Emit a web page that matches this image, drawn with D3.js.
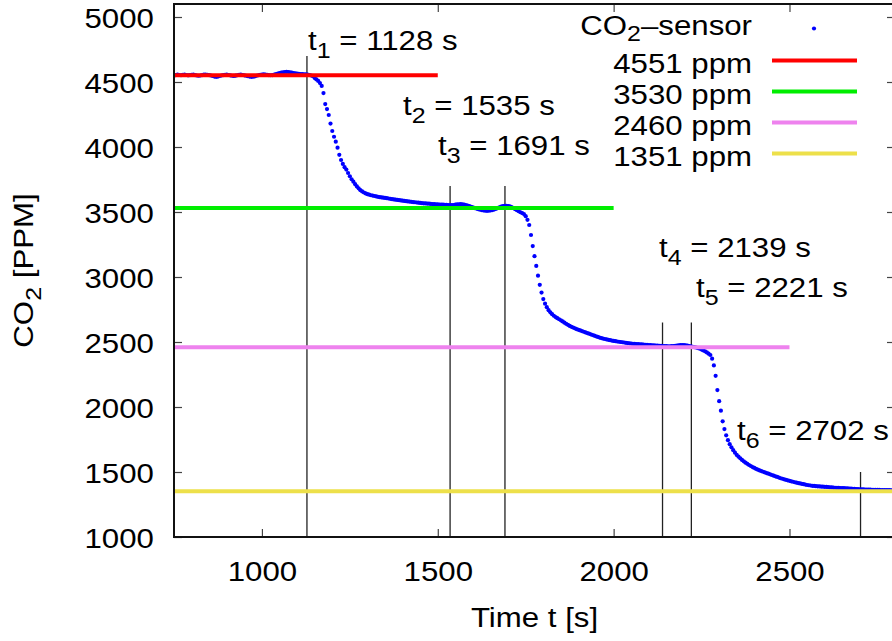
<!DOCTYPE html>
<html>
<head>
<meta charset="utf-8">
<script src="https://cdnjs.cloudflare.com/ajax/libs/d3/7.8.5/d3.min.js"></script>
<style>
  body { margin: 0; background: #fff; overflow: hidden; }
  text { font-family: "Liberation Sans", Arial, Helvetica, sans-serif; fill: #000; }
</style>
</head>
<body>
<div id="chart-area"></div>
<script>
// sensor readings, one every 5 s starting at 750 s
var sensorStart = 750;
var sensorStep = 5;
var sensorPPM = [
  4555, 4553, 4556, 4554, 4552, 4555, 4557, 4554, 4551, 4553, // 750
  4555, 4556, 4553, 4550, 4548, 4550, 4553, 4556, 4557, 4555, // 800
  4553, 4550, 4546, 4542, 4540, 4542, 4546, 4550, 4553, 4555, // 850
  4556, 4554, 4551, 4548, 4547, 4549, 4552, 4555, 4556, 4554, // 900
  4551, 4548, 4545, 4542, 4540, 4541, 4544, 4548, 4552, 4555, // 950
  4557, 4558, 4557, 4555, 4553, 4552, 4553, 4556, 4560, 4564, // 1000
  4568, 4572, 4575, 4577, 4578, 4577, 4575, 4572, 4569, 4566, // 1050
  4564, 4562, 4561, 4560, 4559, 4558, 4556, 4554, 4550, 4545, // 1100
  4530, 4520, 4508, 4492, 4470, 4415, 4330, 4292, 4246, 4180, // 1150
  4123, 4079, 4041, 3995, 3940, 3900, 3870, 3845, 3826, 3800, // 1200
  3775, 3752, 3733, 3714, 3697, 3682, 3668, 3658, 3650, 3643, // 1250
  3637, 3633, 3629, 3626, 3623, 3620, 3617, 3614, 3612, 3610, // 1300
  3608, 3606, 3604, 3601, 3599, 3597, 3595, 3593, 3591, 3589, // 1350
  3587, 3585, 3583, 3581, 3580, 3578, 3576, 3575, 3573, 3572, // 1400
  3570, 3568, 3567, 3566, 3565, 3564, 3562, 3561, 3560, 3559, // 1450
  3558, 3557, 3556, 3556, 3555, 3555, 3554, 3554, 3553, 3554, // 1500
  3556, 3558, 3559, 3560, 3559, 3557, 3554, 3550, 3545, 3540, // 1550
  3535, 3530, 3526, 3522, 3518, 3515, 3512, 3510, 3509, 3510, // 1600
  3512, 3515, 3519, 3524, 3530, 3536, 3541, 3545, 3547, 3548, // 1650
  3546, 3543, 3538, 3530, 3522, 3514, 3506, 3498, 3492, 3484, // 1700
  3468, 3440, 3400, 3323, 3238, 3160, 3085, 3010, 2940, 2880, // 1750
  2830, 2795, 2768, 2745, 2728, 2714, 2702, 2692, 2683, 2675, // 1800
  2667, 2658, 2649, 2640, 2632, 2624, 2617, 2611, 2605, 2599, // 1850
  2594, 2589, 2584, 2579, 2574, 2569, 2564, 2559, 2554, 2549, // 1900
  2544, 2539, 2534, 2530, 2526, 2523, 2520, 2517, 2514, 2511, // 1950
  2508, 2506, 2504, 2502, 2500, 2498, 2496, 2494, 2492, 2490, // 2000
  2488, 2486, 2485, 2484, 2483, 2482, 2481, 2480, 2479, 2478, // 2050
  2477, 2476, 2475, 2474, 2473, 2472, 2471, 2470, 2469, 2468, // 2100
  2468, 2467, 2467, 2468, 2469, 2471, 2473, 2475, 2476, 2477, // 2150
  2476, 2474, 2472, 2469, 2466, 2463, 2460, 2457, 2453, 2449, // 2200
  2442, 2435, 2428, 2420, 2410, 2400, 2372, 2320, 2240, 2130, // 2250
  2045, 1972, 1890, 1830, 1782, 1745, 1714, 1690, 1668, 1649, // 2300
  1631, 1618, 1605, 1593, 1582, 1572, 1563, 1554, 1546, 1538, // 2350
  1531, 1524, 1518, 1512, 1507, 1502, 1497, 1492, 1487, 1482, // 2400
  1477, 1472, 1467, 1462, 1457, 1452, 1448, 1444, 1440, 1436, // 2450
  1432, 1428, 1425, 1421, 1418, 1415, 1412, 1409, 1406, 1403, // 2500
  1400, 1398, 1396, 1394, 1393, 1391, 1390, 1389, 1388, 1387, // 2550
  1386, 1385, 1384, 1382, 1381, 1380, 1379, 1378, 1378, 1377, // 2600
  1376, 1376, 1375, 1374, 1373, 1372, 1371, 1370, 1369, 1368, // 2650
  1367, 1366, 1366, 1365, 1365, 1364, 1364, 1363, 1363, 1362, // 2700
  1362, 1362, 1361, 1361, 1361, 1360, 1360, 1360, 1359, 1359, // 2750
  1359                                                        // 2800
];

// fitted levels and where each one stops
var levelNames = ["4551 ppm", "3530 ppm", "2460 ppm", "1351 ppm"];
var levelValues = [4551, 3530, 2460, 1351];
var levelEnds = [1500, 2000, 2500, 2800];

// switching times
var markerIndex = ["1", "2", "3", "4", "5", "6"];
var markerTimes = [1128, 1535, 1691, 2139, 2221, 2702];
var markerTops = [4700, 3700, 3700, 2650, 2650, 1500];

var xTicks = [1000, 1500, 2000, 2500];
var yTicks = [1000, 1500, 2000, 2500, 3000, 3500, 4000, 4500, 5000];

// styles
var levelColors = ["#ff0000", "#00ee00", "#ee82ee", "#ede04a"];
var pointColor = "#0000ff";
var stretch = 1.115; // text in the original is a bit wide
var fontSize = 28;

// plot box
var margin = { top: 4, left: 174 },
  width = 721,
  height = 533;

var svg = d3.select("#chart-area")
  .append("svg")
  .attr("width", 892)
  .attr("height", 641);

var x = d3.scaleLinear()
  .domain([750, 2800])
  .range([margin.left, margin.left + width]);

var y = d3.scaleLinear()
  .domain([1000, 5100])
  .range([margin.top + height, margin.top]);

svg.append("defs").append("clipPath")
  .attr("id", "plot-clip")
  .append("rect")
  .attr("x", margin.left)
  .attr("y", margin.top)
  .attr("width", width)
  .attr("height", height);

// text helper, gnuplot-ish wide text with optional subscript
function addText(x0, y0, anchor, parts, parent, subShift) {
  var shift = subShift || 8;
  var t = (parent || svg).append("g")
    .attr("transform", "translate(" + x0 + "," + y0 + ")")
    .append("text")
    .attr("transform", "scale(" + stretch + ",1)")
    .attr("text-anchor", anchor)
    .attr("font-size", fontSize + "px");
  parts.forEach(function(p) {
    var s = t.append("tspan").text(p[0]);
    if (p[1] === "sub") s.attr("dy", shift).attr("font-size", (fontSize * 0.8) + "px");
    if (p[1] === "up") s.attr("dy", -shift);
  });
  return t;
}

var plot = svg.append("g").attr("clip-path", "url(#plot-clip)");

// vertical marker lines (behind the data)
plot.append("g")
  .selectAll("line")
  .data(markerTimes)
  .enter()
  .append("line")
  .attr("x1", function(d) { return x(d); })
  .attr("x2", function(d) { return x(d); })
  .attr("y1", function(d, i) { return y(markerTops[i]); })
  .attr("y2", y(1000))
  .attr("stroke", "#222")
  .attr("stroke-width", 1.3);

// sensor points
plot.append("g")
  .selectAll("circle")
  .data(sensorPPM)
  .enter()
  .append("circle")
  .attr("cx", function(d, i) { return x(sensorStart + i * sensorStep); })
  .attr("cy", function(d) { return y(d); })
  .attr("r", 2.1)
  .style("fill", pointColor);

// level lines
plot.append("g")
  .selectAll("line")
  .data(levelValues)
  .enter()
  .append("line")
  .attr("x1", x(750))
  .attr("x2", function(d, i) { return x(levelEnds[i]); })
  .attr("y1", function(d) { return y(d); })
  .attr("y2", function(d) { return y(d); })
  .attr("stroke", function(d, i) { return levelColors[i]; })
  .attr("stroke-width", 4);

// axes, ticks point inward on all four sides
function styleAxis(g) {
  g.select(".domain").remove();
  g.selectAll(".tick line").attr("stroke", "#444").attr("stroke-width", 1.2);
  g.selectAll("text").attr("font-size", fontSize + "px").attr("font-family", null);
}

svg.append("g")
  .attr("transform", "translate(0," + (margin.top + height) + ")")
  .call(d3.axisBottom(x).tickValues(xTicks).tickFormat(d3.format("d"))
    .tickSizeInner(-8).tickSizeOuter(0).tickPadding(24))
  .call(styleAxis)
  .selectAll("text")
  .attr("transform", "scale(" + stretch + ",1)");

svg.append("g")
  .attr("transform", "translate(0," + margin.top + ")")
  .call(d3.axisTop(x).tickValues(xTicks).tickSizeInner(-8).tickSizeOuter(0).tickFormat(""))
  .call(styleAxis);

svg.append("g")
  .attr("transform", "translate(" + margin.left + ",0)")
  .call(d3.axisLeft(y).tickValues(yTicks).tickFormat(d3.format("d"))
    .tickSizeInner(-8).tickSizeOuter(0).tickPadding(18))
  .call(styleAxis)
  .selectAll("text")
  .attr("dy", "0.39em")
  .attr("transform", "scale(" + stretch + ",1)");

svg.append("g")
  .attr("transform", "translate(" + (margin.left + width) + ",0)")
  .call(d3.axisRight(y).tickValues(yTicks).tickSizeInner(-8).tickSizeOuter(0).tickFormat(""))
  .call(styleAxis);

// border
svg.append("rect")
  .attr("x", margin.left)
  .attr("y", margin.top)
  .attr("width", width)
  .attr("height", height)
  .attr("fill", "none")
  .attr("stroke", "#111")
  .attr("stroke-width", 2);

// axis titles
addText(margin.left + width / 2, 627, "middle", [["Time t [s]"]]);

var yTitle = svg.append("g")
  .attr("transform", "translate(33," + (margin.top + height / 2) + ") rotate(-90)");
addText(0, 0, "middle", [["CO"], ["2", "sub"], [" [PPM]", "up"]], yTitle);

// marker labels
var markerLabelPos = [[308, 50], [403, 115], [438, 155], [659, 257], [696, 297], [737, 440]];
markerTimes.forEach(function(t, i) {
  addText(markerLabelPos[i][0], markerLabelPos[i][1], "start",
    [["t"], [markerIndex[i], "sub"], [" = " + t + " s", "up"]]);
});

// legend
var legendRight = 752;
addText(legendRight, 35, "end", [["CO"], ["2", "sub"], ["\u2013sensor", "up"]], svg, 6);
svg.append("circle")
  .attr("cx", 814)
  .attr("cy", 28.5)
  .attr("r", 2.1)
  .style("fill", pointColor);

levelNames.forEach(function(name, i) {
  var base = 72.5 + i * 31;
  addText(legendRight, base, "end", [[name]]);
  svg.append("line")
    .attr("x1", 772)
    .attr("x2", 857)
    .attr("y1", base - 12)
    .attr("y2", base - 12)
    .attr("stroke", levelColors[i])
    .attr("stroke-width", 4);
});
</script>
</body>
</html>
